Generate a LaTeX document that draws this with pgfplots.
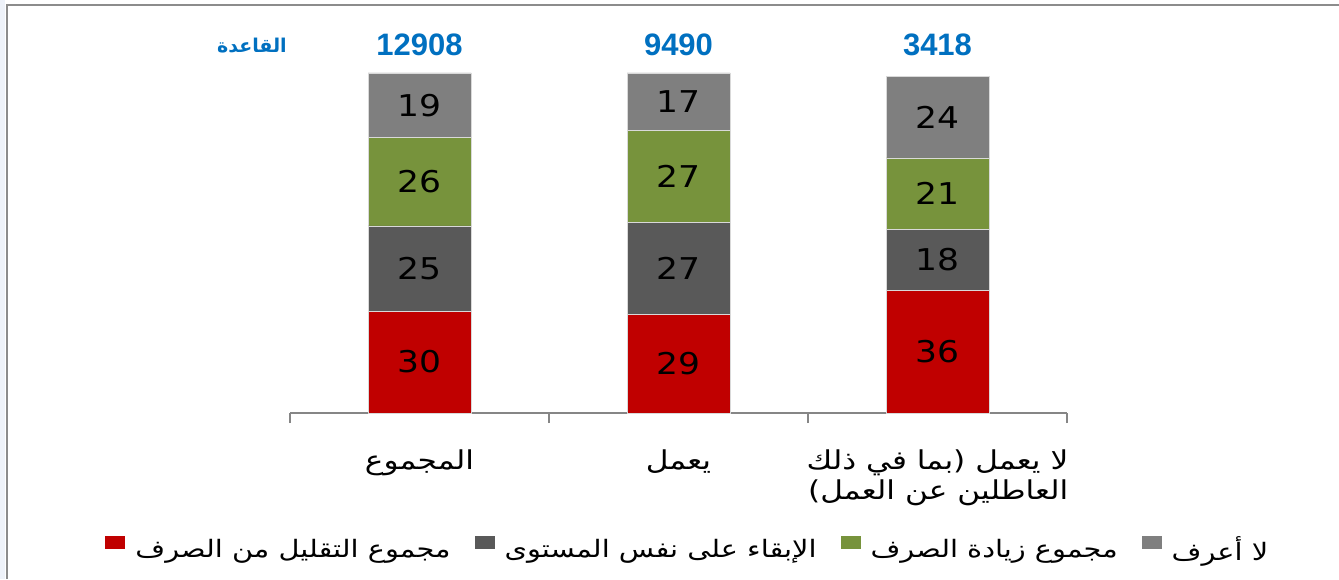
\documentclass[border=0pt]{standalone}
\usepackage{pgfplots}
\pgfplotsset{compat=1.18}
\usepackage{pgfplotstable}
\usepackage{fontspec}
\setmainfont{Liberation Sans}
\newfontfamily\arabicfont[Script=Arabic,FakeStretch=1.2]{DejaVu Sans}
\newfontfamily\arabicbase[Script=Arabic]{DejaVu Sans}
\newfontfamily\labfont[FakeStretch=1.15]{DejaVu Sans}
\TeXXeTstate=1
\definecolor{cred}{HTML}{C00000}
\definecolor{cdark}{HTML}{595959}
\definecolor{cgreen}{HTML}{77933C}
\definecolor{clight}{HTML}{7F7F7F}
\definecolor{cblue}{HTML}{0070C0}
\definecolor{caxis}{HTML}{868686}
\definecolor{framegray}{HTML}{8C8C8C}
\definecolor{paleblue}{HTML}{EEF2F9}
\definecolor{sepc}{HTML}{D9D9D9}

\pgfplotstableread{
x v
0 30
1 29
2 36
}\tred
\pgfplotstableread{
x v
0 25
1 27
2 18
}\tdark
\pgfplotstableread{
x v
0 26
1 27
2 21
}\tgreen
\pgfplotstableread{
x v
0 19
1 17
2 24
}\tlight

\begin{document}
\begin{tikzpicture}[x=1pt,y=1pt]
\useasboundingbox (0,0) rectangle (1339,579);
\fill[white] (0,0) rectangle (1339,579);
\fill[paleblue] (0,0) rectangle (5,579);
\draw[framegray, line width=2pt] (7,0) -- (7,574) -- (1339,574);
\begin{axis}[
  at={(290pt,166pt)}, anchor=south west,
  scale only axis, width=777pt, height=340pt,
  xmin=-0.5, xmax=2.5, ymin=0, ymax=100,
  ybar stacked, bar width=103pt,
  axis x line*=bottom, axis y line=none,
  x axis line style={draw=caxis, line width=1.5pt},
  xtick={0,1,2},
  xticklabels={{\beginR المجموع\endR},{\beginR يعمل\endR},{\beginR لا يعمل (بما في ذلك\endR\\\beginR العاطلين عن العمل)\endR}},
  minor xtick={-0.5,0.5,1.5,2.5},
  major tick length=0pt, minor tick length=10pt,
  tick align=outside,
  minor tick style={draw=caxis, line width=1.5pt},
  xticklabel style={font=\arabicfont\fontsize{26}{30}\selectfont, align=right, yshift=-33pt, text=black},
  clip=false,
  point meta=explicit,
  nodes near coords={\pgfmathprintnumber[assume math mode=true,fixed,precision=0]{\segv}},
  visualization depends on={rawy \as \segv},
  every node near coord/.append style={anchor=center, font=\labfont\fontsize{30}{30}\selectfont, text=black},
  legend columns=4,
  legend style={at={(0.512,-0.400)}, anchor=center, draw=none, fill=none,
    font=\arabicfont\fontsize{24}{28}\selectfont,
    /tikz/every odd column/.append style={column sep=8pt},
    /tikz/every even column/.append style={column sep=22pt}},
  legend image code/.code={\fill[#1,draw=none] (0pt,0pt) rectangle (20pt,13pt);},
]
\addplot[fill=cred, draw=sepc, line width=0.8pt] table[x=x,y=v,meta=v] {\tred};
\addlegendentry{\beginR مجموع التقليل من الصرف\endR}
\addplot[fill=cdark, draw=sepc, line width=0.8pt] table[x=x,y=v,meta=v] {\tdark};
\addlegendentry{\beginR الإبقاء على نفس المستوى\endR}
\addplot[fill=cgreen, draw=sepc, line width=0.8pt] table[x=x,y=v,meta=v] {\tgreen};
\addlegendentry{\beginR مجموع زيادة الصرف\endR}
\addplot[fill=clight, draw=sepc, line width=0.8pt] table[x=x,y=v,meta=v] {\tlight};
\addlegendentry{\beginR لا أعرف\endR}

\node[font=\bfseries\fontsize{31}{31}\selectfont, text=cblue] at (axis cs:0,108.2) {12908};
\node[font=\bfseries\fontsize{31}{31}\selectfont, text=cblue] at (axis cs:1,108.2) {9490};
\node[font=\bfseries\fontsize{31}{31}\selectfont, text=cblue] at (axis cs:2,108.2) {3418};
\node[font=\arabicbase\bfseries\fontsize{19}{24}\selectfont, text=cblue] at (axis cs:-0.647,108.2) {\beginR القاعدة\endR};
\end{axis}
\end{tikzpicture}
\end{document}
